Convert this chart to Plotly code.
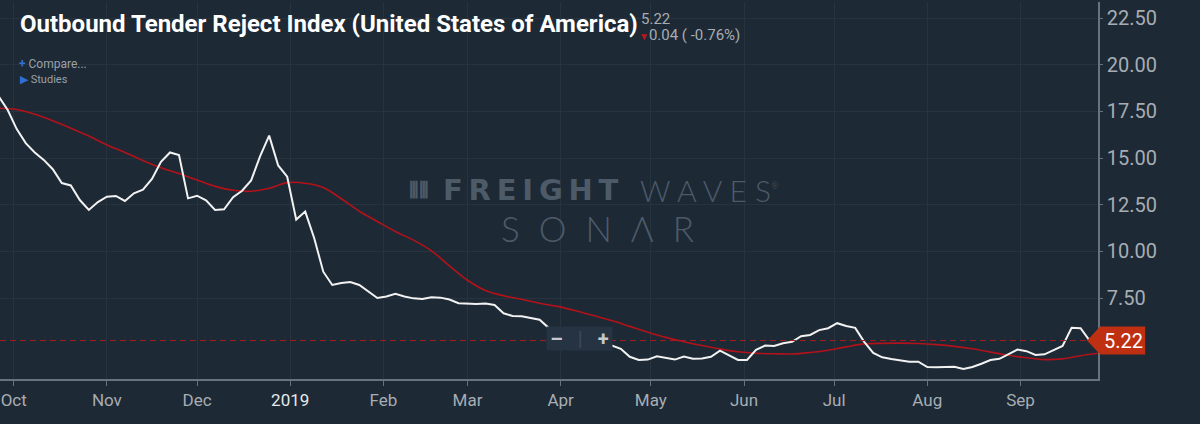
import pandas as pd
import plotly.graph_objects as go

# Outbound tender reject index, every 3 days from 2018-09-26
tender_reject = [
    18.3, 17.57, 16.55, 15.8, 15.3, 14.9, 14.4, 13.66, 13.53, 12.75,
    12.22, 12.64, 12.93, 12.97, 12.7, 13.11, 13.3, 13.88, 14.8, 15.3,
    15.16, 12.84, 12.98, 12.73, 12.22, 12.25, 12.9, 13.25, 13.8, 15.1,
    16.2, 14.6, 14.0, 11.7, 12.13, 10.7, 8.91, 8.2, 8.3, 8.36,
    8.2, 7.85, 7.5, 7.58, 7.72, 7.58, 7.48, 7.45, 7.54, 7.52,
    7.42, 7.22, 7.18, 7.18, 7.2, 7.13, 6.68, 6.54, 6.52, 6.41,
    6.34, 5.9, 5.6, 5.35, 5.2, 5.1, 5.05, 5.0, 4.95, 4.78,
    4.35, 4.18, 4.2, 4.38, 4.3, 4.2, 4.36, 4.25, 4.26, 4.35,
    4.68, 4.45, 4.18, 4.18, 4.72, 4.95, 4.93, 5.08, 5.15, 5.45,
    5.52, 5.78, 5.88, 6.15, 6.0, 5.9, 5.15, 4.56, 4.32, 4.23,
    4.16, 4.09, 4.09, 3.8, 3.79, 3.82, 3.82, 3.7, 3.8, 3.98,
    4.18, 4.24, 4.5, 4.74, 4.65, 4.45, 4.48, 4.7, 4.93, 5.9,
    5.88, 5.22,
]

# moving average study, every 6 days from 2018-09-26
moving_avg = [
    17.67, 17.6, 17.35, 17.0, 16.6, 16.18, 15.7, 15.3, 14.87, 14.48,
    14.17, 13.82, 13.48, 13.27, 13.22, 13.38, 13.68, 13.65, 13.42, 12.82,
    12.15, 11.6, 11.06, 10.6, 10.03, 9.22, 8.45, 7.9, 7.62, 7.43,
    7.22, 7.05, 6.82, 6.56, 6.29, 5.98, 5.67, 5.39, 5.16, 4.95,
    4.77, 4.62, 4.54, 4.51, 4.5, 4.58, 4.7, 4.88, 5.04, 5.07,
    5.08, 5.06, 5.0, 4.91, 4.78, 4.6, 4.43, 4.3, 4.2, 4.24,
    4.41, 4.54,
]

month_ticks = pd.date_range("2018-10-01", "2019-09-01", freq="MS")
month_labels = ["Oct", "Nov", "Dec", "<span style='color:#e6e8ea'>2019</span>", "Feb", "Mar",
                "Apr", "May", "Jun", "Jul", "Aug", "Sep"]
y_ticks = [7.5, 10, 12.5, 15, 17.5, 20, 22.5]

last_value = tender_reject[-1]
change = 0.04
change_pct = -0.76

dates_idx = pd.date_range("2018-09-26", periods=len(tender_reject), freq="3D")
dates_ma = pd.date_range("2018-09-26", periods=len(moving_avg), freq="6D")

BG = "#1d2935"
GRID = "#27343f"
AXIS = "#69737d"
LABEL = "#a7adb3"
RED = "#b3121a"
WM = "#4d5b69"
TS = "\u2009"  # thin space for the wide watermark lettering

fig = go.Figure()

fig.add_trace(go.Scatter(x=dates_ma, y=moving_avg,
                         mode="lines",
                         line=dict(color=RED, width=1.6, shape="spline"),
                         hoverinfo="skip"))

fig.add_trace(go.Scatter(x=dates_idx, y=tender_reject,
                         mode="lines",
                         line=dict(color="#f2f2f2", width=2),
                         hoverinfo="skip"))

# last value dashed line
fig.add_shape(type="line", xref="paper", yref="y", x0=0, x1=0.99,
              y0=last_value, y1=last_value,
              line=dict(color="#a51c1c", width=1, dash="6px,4px"))

# price tag on the right axis
h = 0.75
fig.add_shape(type="path", xref="paper", yref="y",
              path=f"M 0.990,{last_value} L 1.002,{last_value + h} L 1.043,{last_value + h} "
                   f"L 1.043,{last_value - h} L 1.002,{last_value - h} Z",
              fillcolor="#bf2f12", line=dict(width=0), layer="above")
fig.add_annotation(xref="paper", yref="y", x=1.0035, y=last_value,
                   xanchor="left", yanchor="middle",
                   text=f"{last_value:.2f}", showarrow=False,
                   font=dict(family="Roboto", size=20, color="#ffffff"))

# zoom buttons
fig.add_annotation(xref="paper", yref="paper", x=0.5275, y=0.1075,
                   xanchor="center", yanchor="middle", showarrow=False,
                   text="<b>–</b>   <span style='color:#3d4b59'>|</span>   <b>+</b>",
                   width=65, height=23, bgcolor="#253342", borderpad=0,
                   font=dict(family="Roboto", size=20, color="#c4c9ce"))

# header texts
fig.add_annotation(xref="paper", yref="paper", x=0.0165, y=0.9416, xanchor="left",
                   yanchor="middle", showarrow=False,
                   text="<b>Outbound Tender Reject Index (United States of America)</b>",
                   font=dict(family="Roboto", size=24, color="#ffffff"))
fig.add_annotation(xref="paper", yref="paper", x=0.582, y=0.955, xanchor="left",
                   yanchor="middle", showarrow=False, text=f"{last_value:.2f}",
                   font=dict(family="Roboto", size=15, color=LABEL))
fig.add_annotation(xref="paper", yref="paper", x=0.580, y=0.9125, xanchor="left",
                   yanchor="middle", showarrow=False,
                   text=(f"<span style='color:#c0141b;font-size:10px'>▼</span>"
                         f"{change:.2f} ( {change_pct:.2f}%)"),
                   font=dict(family="Roboto", size=15, color=LABEL))
fig.add_annotation(xref="paper", yref="paper", x=0.0155, y=0.836, xanchor="left",
                   yanchor="middle", showarrow=False,
                   text="<span style='color:#2f6fd6'><b>+</b></span> Compare...",
                   font=dict(family="Roboto", size=12, color="#9aa1a8"))
fig.add_annotation(xref="paper", yref="paper", x=0.0165, y=0.794, xanchor="left",
                   yanchor="middle", showarrow=False,
                   text="<span style='color:#2f6fd6'>▶</span> Studies",
                   font=dict(family="Roboto", size=11, color="#9aa1a8"))

# watermark
fig.add_annotation(xref="paper", yref="paper", x=0.402, y=0.5013, xanchor="left",
                   yanchor="middle", showarrow=False,
                   text="<b>" + TS.join("FREIGHT") + "</b>",
                   font=dict(family="DejaVu Sans", size=29, color=WM))
fig.add_annotation(xref="paper", yref="paper", x=0.581, y=0.5013, xanchor="left",
                   yanchor="middle", showarrow=False,
                   text="W A V E S<sup><span style='font-size:9px'>®</span></sup>",
                   font=dict(family="Lato", size=30, color=WM, weight=300))
fig.add_annotation(xref="paper", yref="paper", x=0.3705, y=0.5013, xanchor="left",
                   yanchor="middle", showarrow=False, text="<b>⦀⦀</b>",
                   font=dict(family="DejaVu Sans", size=22, color=WM))
fig.add_annotation(xref="paper", yref="paper", x=0.5445, y=0.400, xanchor="center",
                   yanchor="middle", showarrow=False, text="S  O  N  Λ  R",
                   font=dict(family="Lato", size=35, color=WM, weight=300))

fig.update_xaxes(range=["2018-09-26 10:30", "2019-09-26 19:00"],
                 tickvals=month_ticks, ticktext=month_labels,
                 showgrid=True, gridcolor=GRID, gridwidth=1,
                 showline=True, linecolor=AXIS, linewidth=1.5,
                 ticks="outside", ticklen=5, tickcolor=AXIS,
                 tickfont=dict(family="Roboto", size=17, color=LABEL),
                 zeroline=False, fixedrange=True)

fig.update_yaxes(range=[3.16, 23.36], side="right",
                 tickvals=y_ticks, tickformat=".2f",
                 showgrid=True, gridcolor=GRID, gridwidth=1,
                 showline=True, linecolor=AXIS, linewidth=1.5,
                 ticks="outside", ticklen=3, tickcolor=AXIS,
                 tickfont=dict(family="Roboto", size=20, color=LABEL),
                 zeroline=False, fixedrange=True)

fig.update_layout(width=1200, height=424,
                  paper_bgcolor=BG, plot_bgcolor=BG,
                  margin=dict(l=0, r=102, t=2, b=45),
                  showlegend=False)

fig.write_html("out.html", config={"displayModeBar": False},
               post_script="document.body.style.margin='0';")
